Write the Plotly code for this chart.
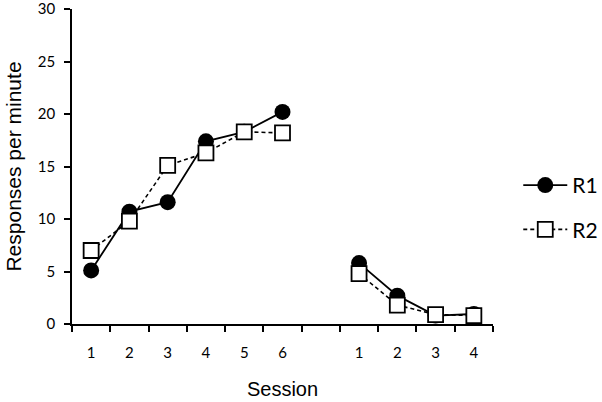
import plotly.graph_objects as go

# session labels: 6 sessions, gap, 4 sessions
sessions = ["1", "2", "3", "4", "5", "6", "", "1", "2", "3", "4"]
r1_phase1 = [5.1, 10.7, 11.6, 17.4, 18.3, 20.2]
r2_phase1 = [7.0, 9.8, 15.1, 16.3, 18.3, 18.2]
r1_phase2 = [5.8, 2.7, 0.8, 0.95]
r2_phase2 = [4.8, 1.8, 0.9, 0.8]

pos1 = list(range(0, 6))
pos2 = list(range(7, 11))
x_all = pos1 + [None] + pos2

fig = go.Figure()
fig.add_trace(go.Scatter(
    x=x_all, y=r1_phase1 + [None] + r1_phase2, name="R1", mode="lines+markers",
    line=dict(color="black", width=1.8),
    marker=dict(symbol="circle", size=16, color="black"),
    legendgroup="r1"))
fig.add_trace(go.Scatter(
    x=x_all, y=r2_phase1 + [None] + r2_phase2, name="R2", mode="lines+markers",
    line=dict(color="black", width=1.6, dash="4px,3px"),
    marker=dict(symbol="square", size=15, color="white", line=dict(color="black", width=1.8)),
    legendgroup="r2"))

tick_pos = [i for i, s in enumerate(sessions) if s]
tick_txt = [s for s in sessions if s]

fig.update_layout(
    width=602, height=402,
    paper_bgcolor="white", plot_bgcolor="white",
    margin=dict(l=72, r=109, t=9, b=78, autoexpand=False),
    font=dict(family="Lato, Arial", color="black"),
    legend=dict(x=1.06, y=0.37, xanchor="left", yanchor="middle",
                font=dict(size=21, family="Lato"), tracegroupgap=14, itemwidth=44,
                bgcolor="rgba(0,0,0,0)"),
)
fig.update_xaxes(
    range=[-0.5, 10.5], tickvals=tick_pos, ticktext=tick_txt,
    ticks="outside", ticklen=0, tickfont=dict(size=15), ticklabelstandoff=14,
    minor=dict(tickvals=[i - 0.5 for i in range(12)], ticks="outside", ticklen=6,
               tickcolor="black", tickwidth=1.5),
    showline=True, linecolor="black", linewidth=1.5, showgrid=False, zeroline=False,
    automargin=False,
    title=dict(text="Session", font=dict(size=20, family="Liberation Sans, Arial"), standoff=22),
)
fig.update_yaxes(
    range=[0, 30], dtick=5, ticks="outside", ticklen=6, tickwidth=1.5, tickcolor="black",
    tickfont=dict(size=15), automargin=False, ticklabeloverflow="allow", ticklabelstandoff=6,
    showline=True, linecolor="black", linewidth=1.5, showgrid=False, zeroline=False,
    title=dict(text="Responses per minute", font=dict(size=21, family="Liberation Sans, Arial"), standoff=10),
)

fig.write_html("out.html", config={"displayModeBar": False},
               post_script="document.body.style.margin='0';")
